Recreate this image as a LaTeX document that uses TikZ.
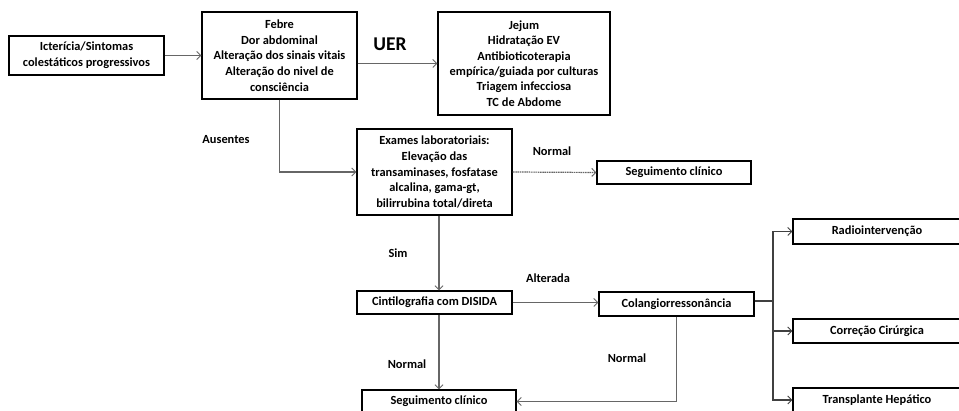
\documentclass[tikz,border=0pt]{standalone}
\usepackage{fontspec}
\setmainfont{Carlito}
\usetikzlibrary{arrows.meta}
\begin{document}
\begin{tikzpicture}[x=1pt,y=-1pt,
  font=\bfseries\fontsize{12.4}{15.8}\selectfont,
  box/.style={draw=black,line width=1.1pt,align=center,inner sep=0pt,fill=white},
  lbl/.style={inner sep=0pt,align=center},
  conn/.style={draw=black!60,line width=1.2pt,-{Straight Barb[length=4pt,width=8pt,line width=1pt]}},
  plain/.style={draw=black!60,line width=1.2pt},
  dark/.style={draw=black!75,line width=1.2pt},
  darkconn/.style={dark,-{Straight Barb[length=4pt,width=8pt,line width=1pt]}},
  dots/.style={conn,dash pattern=on 1.2pt off 0.6pt}]
\useasboundingbox (0,0) rectangle (959,411);

% boxes
\node[box,minimum width=155,minimum height=39] (ict) at (86.5,55.5) {Icterícia/Sintomas\\colestáticos progressivos};
\node[box,minimum width=155,minimum height=87] (feb) at (279.5,55.5) {Febre\\Dor abdominal\\Alteração dos sinais vitais\\Alteração do nivel de\\consciência};
\node[box,minimum width=172,minimum height=103,font=\bfseries\fontsize{12.4}{15.4}\selectfont] (jej) at (524,63.5) {Jejum\\Hidratação EV\\Antibioticoterapia\\empírica/guiada por culturas\\Triagem infecciosa\\TC de Abdome};
\node[box,minimum width=155,minimum height=86] (exa) at (434.5,172) {Exames laboratoriais:\\Elevação das\\transaminases, fosfatase\\alcalina, gama-gt,\\bilirrubina total/direta};
\node[box,minimum width=154,minimum height=23] (seg1) at (674,172.5) {Seguimento clínico};
\node[box,minimum width=155,minimum height=23] (cin) at (434.5,302.5) {Cintilografia com DISIDA};
\node[box,minimum width=155,minimum height=24] (col) at (676.5,304) {Colangiorressonância};
\node[box,minimum width=154,minimum height=23] (seg2) at (439,401.5) {Seguimento clínico};
\node[box,minimum width=168,minimum height=25] (rad) at (877,231.5) {Radiointervenção};
\node[box,minimum width=168,minimum height=24] (cor) at (877,331) {Correção Cirúrgica};
\node[box,minimum width=168,minimum height=24] (tra) at (877,400) {Transplante Hepático};

% branch point after the cholangio-MRI
\coordinate (br) at (773,301);

% labels
\node[lbl,font=\bfseries\fontsize{19.5}{21}\selectfont] (uer) at (390,44) {UER};
\node[lbl] (aus) at (226,140) {Ausentes};
\node[lbl] (nor1) at (552,151) {Normal};
\node[lbl] (sim) at (398,253) {Sim};
\node[lbl] (alt) at (548,278) {Alterada};
\node[lbl] (nor2) at (407,364) {Normal};
\node[lbl] (nor3) at (627,358) {Normal};

% connectors
\draw[conn] (ict.east) -- (feb.west);
\draw[conn] (feb.east |- jej.west) -- (jej.west);
\draw[conn] (feb.south) |- (exa.west);
\draw[dots] (exa.east) -- (seg1.west);
\draw[conn] (seg2.north |- exa.south) -- (seg2.north |- cin.north);
\draw[conn] (seg2.north |- cin.south) -- (seg2.north);
\draw[conn] (cin.east) -- (cin.east -| col.west);
\draw[conn] (col.south) |- (seg2.east);
\draw[dark] (col.east |- br) -- (br);
\draw[darkconn] (br) |- (rad.west);
\draw[darkconn] (br) |- (cor.west);
\draw[darkconn] (br) |- (tra.west);
\end{tikzpicture}
\end{document}
